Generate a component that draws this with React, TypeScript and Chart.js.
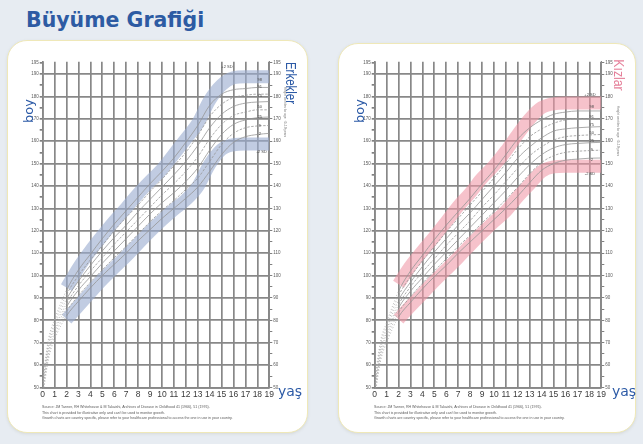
import React, { useEffect, useRef } from "react";
import { Chart, registerables } from "chart.js";

Chart.register(...registerables);

// ---------- axes ----------
const ageTicks = [0, 1, 2, 3, 4, 5, 6, 7, 8, 9, 10, 11, 12, 13, 14, 15, 16, 17, 18, 19];
const heightTicks = [50, 55, 60, 65, 70, 75, 80, 85, 90, 95, 100, 105, 110, 115, 120, 125, 130, 135, 140, 145, 150, 155, 160, 165, 170, 175, 180, 185, 190, 195];

// ---------- ages for the series ----------
const curveAges = [0, 0.5, 1, 2, 3, 4, 5, 6, 7, 8, 9, 10, 11, 12, 13, 14, 15, 16, 17, 18, 19];
const bandAges = [2, 3, 4, 5, 6, 7, 8, 9, 10, 11, 12, 13, 14, 15, 16, 17, 18, 19];

// ---------- boys (Erkekler) ----------
const boysP2 = [46, 63, 71.5, 82, 88.5, 94.5, 100, 105, 110, 115.5, 120.5, 125.5, 130, 134.5, 139.5, 146.5, 154, 159.5, 162, 163, 163.5];
const boysP9 = [47.5, 64.5, 73, 84, 91, 97, 102.5, 108, 113, 118.5, 124, 129, 133.5, 138.5, 143.5, 151, 158.5, 163.5, 166, 166.8, 167];
const boysP25 = [49, 66, 74.5, 86, 93.5, 99.5, 105.5, 111, 116.5, 122, 127.5, 132.5, 137, 142, 148, 156, 163, 167.5, 169.5, 170.5, 170.8];
const boysP50 = [50, 67.5, 76, 87.5, 95.5, 102, 108, 114, 119.5, 125, 130.5, 136, 141, 146.5, 153, 161, 167.5, 171.5, 173, 174, 174];
const boysP75 = [51, 69, 77.5, 89.5, 97.5, 104.5, 111, 117, 122.5, 128.5, 134, 139.5, 145, 151, 158, 166, 172, 175.5, 177, 177.5, 177.7];
const boysP91 = [52.5, 70.5, 79, 91.5, 100, 107, 113.5, 120, 126, 131.5, 137.5, 143, 149, 155, 162.5, 171, 176.5, 179.5, 180.5, 181, 181];
const boysP98 = [54, 72, 80.5, 93.5, 102.5, 109.5, 116.5, 123, 129, 135, 141, 146.5, 152.5, 159.5, 167, 176, 181, 183, 183.5, 184, 184];
const boysUpperBand = [94.6, 103.5, 111, 117.8, 124.3, 130.2, 136.5, 142.1, 147.4, 154.2, 161, 168, 178.3, 185.1, 188.3, 188.8, 188.8, 188.8];
const boysLowerBand = [80.5, 86.4, 92.4, 98.2, 103.5, 108.7, 114.2, 119.7, 124.8, 129.5, 133.8, 139.7, 149.7, 156.3, 158.4, 158.7, 158.7, 158.7];

// ---------- girls (Kızlar) ----------
const girlsP2 = [45.5, 62, 70, 81.5, 88, 94, 99.5, 104.5, 110, 115, 120, 125, 130, 135.5, 141.5, 147, 150, 151.5, 152, 152.4, 152.5];
const girlsP9 = [47, 63.5, 71.5, 83.5, 90.5, 96.5, 102, 107.5, 113, 118, 123.5, 128.5, 134, 139.5, 145.5, 150.5, 153.5, 155, 155.5, 155.8, 156];
const girlsP25 = [48.5, 65, 73, 85.5, 93, 99, 105, 110.5, 116, 121.5, 127, 132.5, 138, 144, 149.5, 154, 157, 158.5, 159, 159.3, 159.5];
const girlsP50 = [49.5, 66.5, 74.5, 87, 95, 101.5, 107.5, 113.5, 119, 124.5, 130.5, 136, 142, 148, 153.5, 157.5, 160.5, 162, 162.5, 162.8, 163];
const girlsP75 = [50.5, 68, 76, 89, 97, 104, 110.5, 116.5, 122.5, 128, 134, 140, 146, 152.5, 157.5, 161.5, 164.5, 165.5, 166, 166.3, 166.5];
const girlsP91 = [52, 69.5, 77.5, 91, 99.5, 106.5, 113, 119.5, 125.5, 131.5, 137.5, 143.5, 150, 156.5, 162, 165.5, 168, 169.5, 170, 170, 170];
const girlsP98 = [53.5, 71, 79, 93, 102, 109, 116, 122.5, 128.5, 134.5, 141, 147, 154, 161, 166, 169.5, 172, 173, 173.5, 173.5, 173.5];
const girlsUpperBand = [96.1, 104.2, 110.9, 117.3, 124, 130.9, 136.8, 143.5, 149, 155.6, 163.1, 170, 175, 176.7, 177, 177, 177, 177];
const girlsLowerBand = [80.5, 86.4, 91.9, 97.5, 102.7, 108, 113.6, 118.9, 124, 128.8, 135.2, 140.9, 146.5, 148.5, 148.8, 148.8, 148.8, 148.8];

// ---------- labels ----------
const centileLabels = ["98", "91", "75", "50", "25", "9", "2"];
const centileLabelAge = 18.2;
const boysCentileLabelHeights = [187.3, 184.1, 180.3, 175.4, 170.9, 166.9, 163.1];
const girlsCentileLabelHeights = [175.4, 170.9, 167.2, 163.5, 160.1, 156, 151.6];
const sdLabels = ["+2 SD", "-2 SD"];
const boysSdAges = [15.45, 18.36];
const boysSdHeights = [193.1, 155.3];
const girlsSdAges = [18.05, 18.05];
const girlsSdHeights = [180.9, 145.6];

const footnotes = [
  "Source: JM Tanner, RH Whitehouse & M Takaishi, Archives of Disease in Childhood 41 (1966), 51 (1976).",
  "This chart is provided for illustrative only and can't be used to monitor growth.",
  "Growth charts are country specific, please refer to your healthcare professional to access the one in use in your country.",
];

const W = 280;
const H = 360;
const GRID = "#888888";
const BLUE = "#2c5aa6";

type ChartProps = {
  left: number;
  top: number;
  curves: number[][];
  upper: number[];
  lower: number[];
  bandColor: string;
  labelHeights: number[];
  sdAges: number[];
  sdHeights: number[];
};

function GrowthChart(p: ChartProps) {
  const ref = useRef<HTMLCanvasElement>(null);
  useEffect(() => {
    const curveSets = p.curves.map((c, idx) => ({
      data: curveAges.map((a, i) => ({ x: a, y: c[i] })),
      borderColor: "#969696",
      borderWidth: 0.8,
      borderDash: idx % 2 === 1 ? [2.5, 1.5] : [],
      pointRadius: 0,
      cubicInterpolationMode: "monotone",
      order: 0,
      segment: {
        borderDash: (ctx: any) => (ctx.p0.parsed.x < 2 ? [1, 2] : undefined),
        borderColor: (ctx: any) => (ctx.p0.parsed.x < 2 ? "#a8a8a8" : undefined),
      },
    }));
    const bandSets = [p.upper, p.lower].map((b) => ({
      data: bandAges.map((a, i) => ({ x: a, y: b[i] })),
      borderColor: p.bandColor,
      borderWidth: 13,
      borderCapStyle: "butt",
      borderJoinStyle: "round",
      pointRadius: 0,
      cubicInterpolationMode: "monotone",
      order: 10,
    }));

    const labelPlugin = {
      id: "centileLabels",
      afterDatasetsDraw(chart: any) {
        const { ctx, scales } = chart;
        const xs = scales.x;
        const ys = scales.y;
        ctx.save();
        ctx.fillStyle = "#4a4a4a";
        ctx.font = '4px "Liberation Sans", Arial, sans-serif';
        ctx.textAlign = "center";
        ctx.textBaseline = "middle";
        centileLabels.forEach((t, i) => {
          ctx.fillText(t, xs.getPixelForValue(centileLabelAge), ys.getPixelForValue(p.labelHeights[i]));
        });
        sdLabels.forEach((t, i) => {
          ctx.fillText(t, xs.getPixelForValue(p.sdAges[i]), ys.getPixelForValue(p.sdHeights[i]));
        });
        ctx.restore();
      },
    };

    const yTicksBuilder = (axis: any) => {
      axis.ticks = heightTicks.map((v) => ({ value: v }));
    };
    const yLabel = (v: any) => (v % 10 === 0 || v === 195 ? String(v) : "");

    const chart = new Chart(ref.current as HTMLCanvasElement, {
      type: "line",
      data: { datasets: [...curveSets, ...bandSets] as any },
      options: {
        responsive: false,
        animation: false,
        layout: { padding: { top: 11.7, left: 0, right: 0, bottom: 0 } },
        plugins: { legend: { display: false }, tooltip: { enabled: false } },
        scales: {
          x: {
            type: "linear",
            min: 0,
            max: 19,
            afterBuildTicks: (axis: any) => {
              axis.ticks = ageTicks.map((v) => ({ value: v }));
            },
            afterFit: (s: any) => {
              s.height = 22.5;
            },
            grid: { color: GRID, lineWidth: 1.7, drawTicks: false },
            border: { color: GRID, width: 1.7 },
            ticks: {
              padding: 2,
              autoSkip: false,
              maxRotation: 0,
              color: "#3a3a3a",
              font: { size: 8.5, family: '"Liberation Sans", Arial, sans-serif' },
            },
          },
          y: {
            type: "linear",
            position: "left",
            min: 50,
            max: 195.5,
            afterBuildTicks: yTicksBuilder,
            afterFit: (s: any) => {
              s.width = 32.7;
            },
            grid: {
              color: (ctx: any) => (ctx.tick && ctx.tick.value % 10 === 0 ? GRID : "rgba(0,0,0,0)"),
              lineWidth: 1.7,
              tickColor: "#808080",
              tickLength: 3,
            },
            border: { color: GRID, width: 1.7 },
            ticks: {
              callback: yLabel,
              autoSkip: false,
              padding: 1,
              color: "#5a5a5a",
              font: { size: 4.5, family: '"Liberation Sans", Arial, sans-serif' },
            },
          },
          y2: {
            type: "linear",
            position: "right",
            min: 50,
            max: 195.5,
            afterBuildTicks: yTicksBuilder,
            afterFit: (s: any) => {
              s.width = W - 259.3;
            },
            grid: { drawOnChartArea: false, tickColor: "#808080", tickLength: 3 },
            border: { color: "#8a8a8a", width: 1 },
            ticks: {
              callback: yLabel,
              autoSkip: false,
              padding: 1,
              color: "#5a5a5a",
              font: { size: 4.5, family: '"Liberation Sans", Arial, sans-serif' },
            },
          },
        },
      } as any,
      plugins: [labelPlugin],
    });
    return () => chart.destroy();
  }, []);
  return (
    <canvas
      ref={ref}
      width={W}
      height={H}
      style={{ position: "absolute", left: p.left, top: p.top, width: W, height: H }}
    />
  );
}

function Rotated(props: { x: number; y: number; deg: number; children: any; style?: any }) {
  return (
    <div
      style={{
        position: "absolute",
        left: props.x,
        top: props.y,
        transform: `translate(-50%, -50%) rotate(${props.deg}deg)`,
        whiteSpace: "nowrap",
        lineHeight: 1,
        ...props.style,
      }}
    >
      {props.children}
    </div>
  );
}

function Footnotes(props: { left: number }) {
  return (
    <div
      style={{
        position: "absolute",
        left: props.left,
        top: 405,
        fontSize: 3.6,
        lineHeight: "5.7px",
        color: "#5a5a5a",
        fontFamily: '"Liberation Sans", Arial, sans-serif',
        whiteSpace: "nowrap",
      }}
    >
      {footnotes.map((t, i) => (
        <div key={i}>{t}</div>
      ))}
    </div>
  );
}

export default function App() {
  const card = {
    position: "absolute" as const,
    background: "#ffffff",
    border: "1.5px solid #efe8b8",
    borderRadius: 20,
    boxShadow: "0 1px 3px rgba(120,120,90,0.15)",
  };
  return (
    <div
      style={{
        position: "fixed",
        inset: 0,
        background: "#e7ecf2",
        overflow: "hidden",
        fontFamily: '"Liberation Sans", Arial, sans-serif',
      }}
    >
      <div
        style={{
          position: "absolute",
          left: 26,
          top: 10,
          fontFamily: '"DejaVu Sans", Verdana, sans-serif',
          fontWeight: "bold",
          fontSize: 20.5,
          lineHeight: "20.5px",
          color: "#2d5ba3",
          whiteSpace: "nowrap",
        }}
      >
        Büyüme Grafiği
      </div>

      <div style={{ ...card, left: 7, top: 40, width: 299, height: 391 }} />
      <div style={{ ...card, left: 338, top: 43, width: 296, height: 388 }} />

      <GrowthChart
        left={10}
        top={50}
        curves={[boysP2, boysP9, boysP25, boysP50, boysP75, boysP91, boysP98]}
        upper={boysUpperBand}
        lower={boysLowerBand}
        bandColor="rgba(155,172,208,0.62)"
        labelHeights={boysCentileLabelHeights}
        sdAges={boysSdAges}
        sdHeights={boysSdHeights}
      />
      <GrowthChart
        left={342}
        top={50}
        curves={[girlsP2, girlsP9, girlsP25, girlsP50, girlsP75, girlsP91, girlsP98]}
        upper={girlsUpperBand}
        lower={girlsLowerBand}
        bandColor="rgba(240,150,165,0.58)"
        labelHeights={girlsCentileLabelHeights}
        sdAges={girlsSdAges}
        sdHeights={girlsSdHeights}
      />

      <Rotated x={28} y={111} deg={-90} style={{ color: BLUE, fontSize: 13, fontFamily: '"DejaVu Sans", Verdana, sans-serif' }}>
        boy
      </Rotated>
      <Rotated x={359} y={111} deg={-90} style={{ color: BLUE, fontSize: 13, fontFamily: '"DejaVu Sans", Verdana, sans-serif' }}>
        boy
      </Rotated>

      <Rotated x={291} y={83} deg={90} style={{ color: BLUE, fontSize: 14, transform: "translate(-50%, -50%) rotate(90deg) scaleX(0.82)" }}>
        Erkekler
      </Rotated>
      <Rotated x={619} y={75} deg={90} style={{ color: "#e5809a", fontSize: 15, transform: "translate(-50%, -50%) rotate(90deg) scaleX(0.82)" }}>
        Kızlar
      </Rotated>

      <Rotated x={284} y={112} deg={90} style={{ color: "#777", fontSize: 3.2 }}>
        Height centiles for age · 0–19 years
      </Rotated>
      <Rotated x={617} y={131} deg={90} style={{ color: "#777", fontSize: 3.2 }}>
        Height centiles for age · 0–19 years
      </Rotated>

      <div style={{ position: "absolute", left: 278, top: 384, color: BLUE, fontSize: 14, fontFamily: '"DejaVu Sans", Verdana, sans-serif', lineHeight: "14px" }}>
        yaş
      </div>
      <div style={{ position: "absolute", left: 612, top: 384, color: BLUE, fontSize: 14, fontFamily: '"DejaVu Sans", Verdana, sans-serif', lineHeight: "14px" }}>
        yaş
      </div>

      <Footnotes left={42} />
      <Footnotes left={374} />
    </div>
  );
}
